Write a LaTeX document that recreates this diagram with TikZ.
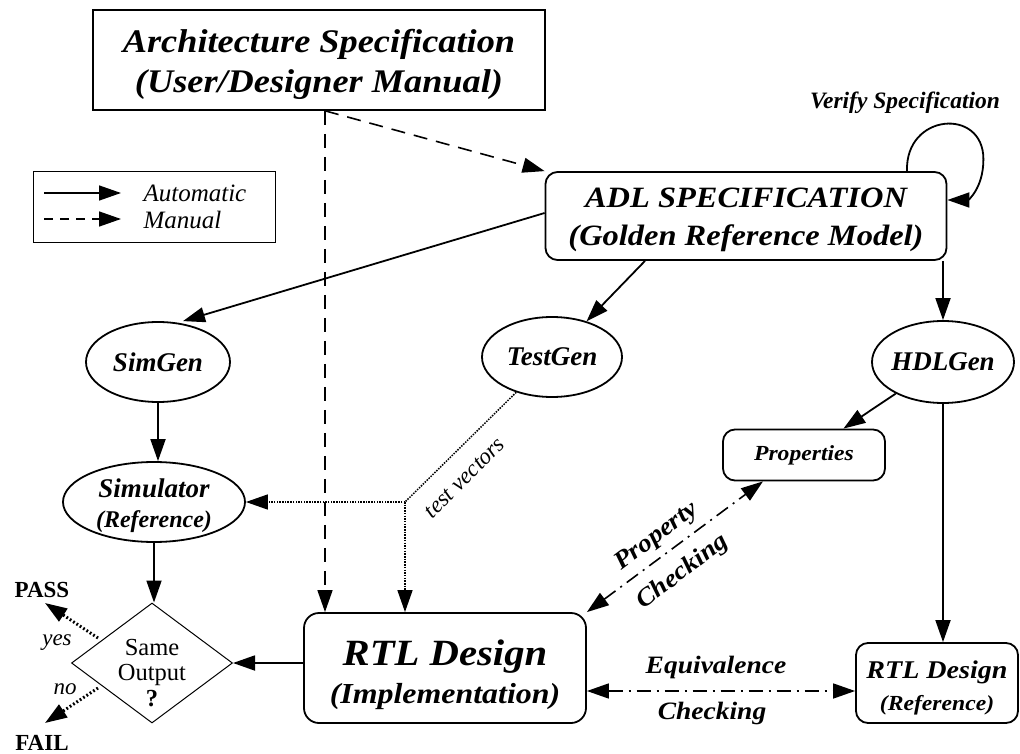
\documentclass[tikz,border=0pt]{standalone}
\usepackage{fontspec}
\setmainfont{Liberation Serif}
\newfontfamily\cent[FakeStretch=1.1]{Liberation Serif}
\usetikzlibrary{arrows.meta,shapes.geometric,calc}
\newcommand\setfs[2]{\fontsize{#1}{#2}\selectfont}
\begin{document}
\begin{tikzpicture}[x=1pt,y=-1pt,
  tipA/.style={-{Triangle[length=22pt,width=15pt]}},
  autoarr/.style={draw, line width=1.8pt, tipA},
  manarr/.style={draw, line width=1.6pt, dash pattern=on 14pt off 9pt, tipA},
  vecarr/.style={draw, line width=1.5pt, dash pattern=on 1.5pt off 1.2pt},
  chkarr/.style={draw, line width=1.6pt, dash pattern=on 14pt off 6pt on 2pt off 6pt,
     {Triangle[length=22pt,width=15pt]}-{Triangle[length=22pt,width=15pt]}},
  pfarr/.style={draw, line width=3pt, dash pattern=on 1.8pt off 2.2pt, tipA},
  rbox/.style={draw, line width=1.8pt, rounded corners=12pt, inner sep=0pt, align=center},
  ell/.style={draw, ellipse, line width=1.8pt, inner sep=0pt},
  btext/.style={font=\bfseries\itshape\setfs{27}{30}}
]
\useasboundingbox (0,0) rectangle (1020,754);

% main boxes
\node[draw, line width=1.6pt, minimum width=452pt, minimum height=100pt] (arch) at (319,60) {};
\node[align=center, font=\cent\bfseries\itshape\setfs{33}{40}] (archtext) at (319,64)
  {Architecture Specification\\(User/Designer Manual)};
\node[rbox, minimum width=401pt, minimum height=88pt] (adl) at (746,216) {};
\node[align=center, font=\cent\bfseries\itshape\setfs{29.5}{38}] (adltext) at (746,220)
  {ADL SPECIFICATION\\(Golden Reference Model)};
\node[rbox, rounded corners=15pt, minimum width=282pt, minimum height=110pt] (rtl) at (445,668) {};
\node[align=center, font=\cent\bfseries\itshape\setfs{29}{38}] (rtltext) at (445,675)
  {\setfs{37}{38}RTL Design\\\setfs{29}{38}(Implementation)};
\node[rbox, minimum width=162pt, minimum height=80pt] (rtlref) at (937,683) {};
\node[align=center, font=\cent\bfseries\itshape\setfs{21.5}{32}] (rtlreftext) at (937,688)
  {\setfs{25.5}{32}RTL Design\\\setfs{21.5}{32}(Reference)};
\node[rbox, minimum width=162pt, minimum height=51pt,
  font=\cent\bfseries\itshape\setfs{21.5}{24}] (props) at (804,455) {Properties};

% ellipses
\node[ell, minimum width=144pt, minimum height=80pt,
  label={[btext]center:SimGen}] (simgen) at (158,362) {};
\node[ell, minimum width=140pt, minimum height=80pt,
  label={[btext]center:TestGen}] (testgen) at (552,357) {};
\node[ell, minimum width=142pt, minimum height=82pt,
  label={[btext]center:HDLGen}] (hdlgen) at (943,362) {};
\node[ell, minimum width=182pt, minimum height=80pt] (simulator) at (154,502) {};
\node[align=center, font=\bfseries\itshape\setfs{24}{30}] (simtext) at (154,506)
  {\setfs{27}{30}Simulator\\\setfs{24}{30}(Reference)};

% diamond
\node[diamond, draw, line width=1pt, minimum width=161pt, minimum height=120pt, inner sep=0pt] (dia) at (152,663) {};
\node[align=center, font=\setfs{24.5}{25.5}] (diat) at (152,673) {Same\\Output\\\textbf{?}};

% legend
\node[draw, line width=0.8pt, minimum width=242pt, minimum height=71pt] (leg) at (154,206.5) {};
\coordinate (la1) at (44,193);
\coordinate (la2) at (121,193);
\coordinate (lb1) at (44,219);
\coordinate (lb2) at (121,219);
\draw[autoarr, line width=1.5pt] (la1) -- (la2);
\draw[manarr, line width=1.5pt, dash pattern=on 9pt off 7pt] (lb1) -- (lb2);
\node[anchor=west, font=\itshape\setfs{25}{27}] (legauto) at (140,193) {Automatic};
\node[anchor=west, font=\itshape\setfs{25}{27}] (legman) at (140,220) {Manual};

% texts
\node[font=\bfseries\itshape\setfs{23.5}{26}] (vs) at (905,103) {Verify Specification};
\node[font=\itshape\setfs{23}{24}, rotate=45] (tvl) at (465,478) {test vectors};
\node[font=\cent\bfseries\itshape\setfs{25}{27}, rotate=37] (pcl1) at (657,537) {Property};
\node[font=\cent\bfseries\itshape\setfs{25}{27}, rotate=37] (pcl2) at (683,572) {Checking};
\node[font=\cent\bfseries\itshape\setfs{25}{27}] (ecl1) at (716,667) {Equivalence};
\node[font=\cent\bfseries\itshape\setfs{25}{27}] (ecl2) at (712,713) {Checking};
\node[font=\bfseries\setfs{23}{25}] (pass) at (42,590) {PASS};
\node[font=\bfseries\setfs{23}{25}] (fail) at (42,743) {FAIL};
\node[font=\itshape\setfs{23}{25}] (yes) at (57,643) {yes};
\node[font=\itshape\setfs{23}{25}] (no) at (65,689) {no};

% manual arrows
\coordinate (tb) at ($(arch.south)+(6,0)$);
\draw[manarr] (tb) -- (adl.north west);
\draw[manarr] (tb) -- (tb |- rtl.north);

% automatic arrows
\draw[autoarr] ($(adl.west)+(0,-3)$) -- ($(simgen.north)+(25,0)$);
\draw[autoarr] ($(adl.south)+(-101,0)$) -- (testgen);
\draw[autoarr] (hdlgen.north |- adl.south) -- (hdlgen.north);
\draw[autoarr] (hdlgen) -- (props);
\draw[autoarr] (hdlgen.south) -- (hdlgen.south |- rtlref.north);
\draw[autoarr] (simgen.south) -- (simgen.south |- simulator.north);
\draw[autoarr] (simulator.south) -- (simulator.south |- dia.north);
\draw[autoarr] (rtl.west |- dia.east) -- (dia.east);
\draw[autoarr] ($(adl.north)+(161,0)$) .. controls +(-2,-58) and +(0,-52) ..
  ($(adl.north east)+(36,-12)$) .. controls +(0,30) and +(20,0) .. ($(adl.east)+(0,-16)$);

% test vectors
\coordinate (tv) at (405,502);
\draw[vecarr] (testgen) -- (tv);
\draw[vecarr, tipA] (tv) -- (simulator);
\draw[vecarr, tipA] (tv) -- (tv |- rtl.north);

% checking
\coordinate (eqy) at (0,691);
\draw[chkarr] (rtl.east |- eqy) -- (rtlref.west |- eqy);
\draw[chkarr] (rtl.north east) -- ($(props.south)+(-41,0)$);

% pass / fail
\coordinate (pt) at (45,603);
\coordinate (ft) at (45,723);
\draw[pfarr] ($(dia.west)+(27,-25)$) -- (pt);
\draw[pfarr] ($(dia.west)+(27,25)$) -- (ft);
\end{tikzpicture}
\end{document}
